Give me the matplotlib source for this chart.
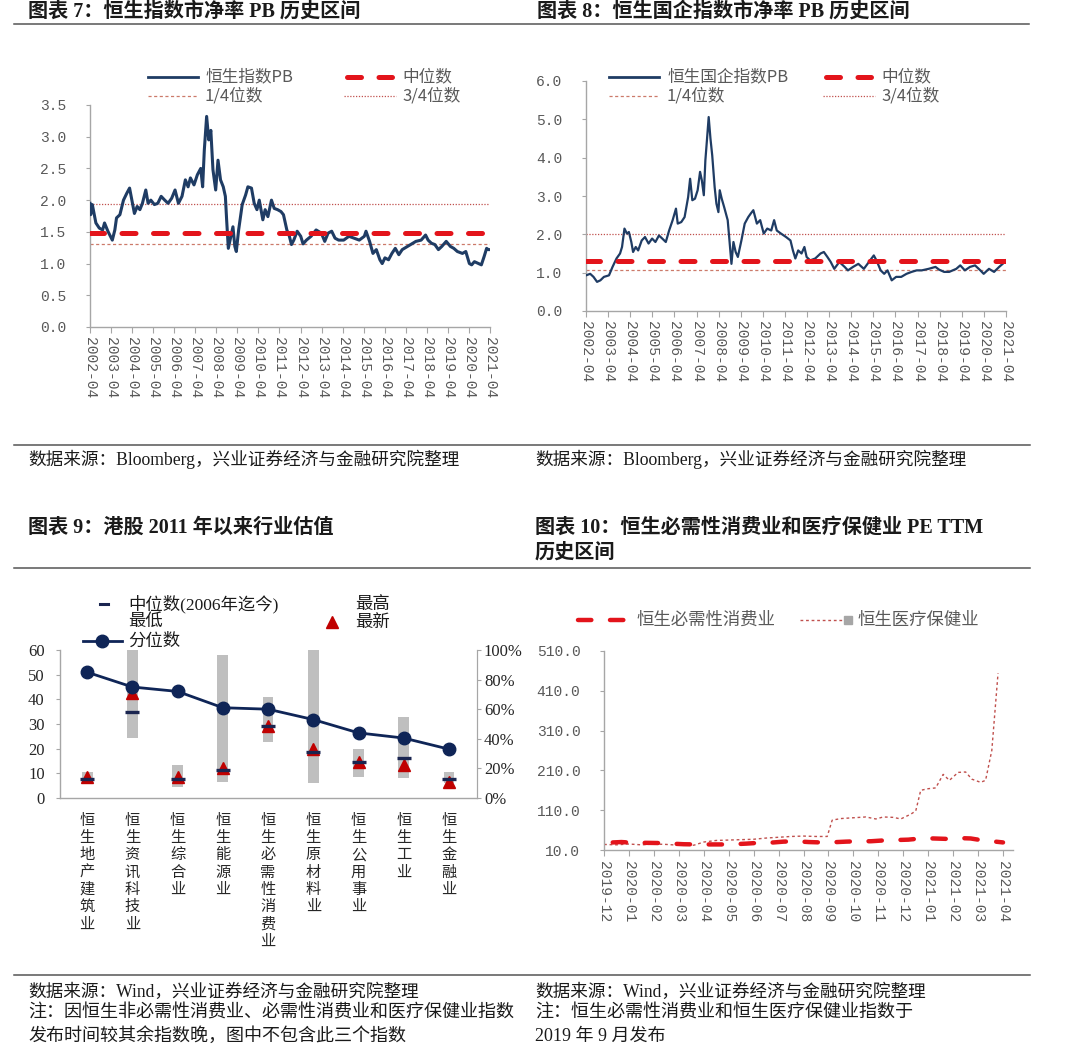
import numpy as np
import matplotlib
matplotlib.use('Agg')
import matplotlib.pyplot as plt
from matplotlib.lines import Line2D

plt.rcParams['font.family'] = ['Noto Sans CJK SC', 'DejaVu Sans']
plt.rcParams['axes.unicode_minus'] = False

# ---------------- data ----------------
year_labels = ['%d-04' % y for y in range(2002, 2022)]

# Hang Seng Index PB (decimal year, value)
hsi_pb = [(2002.25, 1.95), (2002.28, 1.77), (2002.36, 1.93), (2002.53, 1.64), (2002.69, 1.56),
          (2002.85, 1.53), (2002.94, 1.64), (2003.10, 1.51), (2003.31, 1.37), (2003.43, 1.53),
          (2003.51, 1.72), (2003.67, 1.77), (2003.84, 2.00), (2004.00, 2.11), (2004.13, 2.19),
          (2004.24, 2.00), (2004.36, 1.79), (2004.49, 1.90), (2004.62, 1.85), (2004.74, 1.95),
          (2004.90, 2.16), (2005.01, 1.95), (2005.14, 2.00), (2005.31, 1.93), (2005.47, 1.95),
          (2005.63, 2.06), (2005.80, 2.00), (2005.96, 1.95), (2006.13, 2.03), (2006.29, 2.16),
          (2006.45, 1.95), (2006.62, 2.06), (2006.78, 2.32), (2006.91, 2.21), (2007.02, 2.35),
          (2007.19, 2.24), (2007.35, 2.40), (2007.51, 2.50), (2007.60, 2.21), (2007.68, 2.79),
          (2007.79, 3.32), (2007.89, 2.95), (2007.99, 3.10), (2008.09, 2.48), (2008.22, 2.16),
          (2008.33, 2.63), (2008.45, 2.32), (2008.58, 2.21), (2008.68, 2.06), (2008.74, 1.69),
          (2008.82, 1.24), (2008.94, 1.43), (2009.04, 1.58), (2009.13, 1.27), (2009.20, 1.19),
          (2009.31, 1.53), (2009.48, 1.93), (2009.64, 2.08), (2009.75, 2.21), (2009.92, 2.19),
          (2010.05, 1.95), (2010.18, 1.85), (2010.29, 2.00), (2010.46, 1.69), (2010.57, 1.85),
          (2010.70, 1.74), (2010.87, 2.00), (2011.00, 1.87), (2011.16, 1.85), (2011.32, 1.82),
          (2011.44, 1.77), (2011.60, 1.53), (2011.72, 1.43), (2011.82, 1.30), (2011.93, 1.37),
          (2012.09, 1.51), (2012.26, 1.43), (2012.37, 1.31), (2012.53, 1.37), (2012.75, 1.43),
          (2012.99, 1.53), (2013.24, 1.48), (2013.40, 1.35), (2013.56, 1.48), (2013.73, 1.51),
          (2013.89, 1.40), (2014.06, 1.37), (2014.30, 1.37), (2014.55, 1.43), (2014.79, 1.40),
          (2015.04, 1.37), (2015.28, 1.43), (2015.36, 1.51), (2015.53, 1.35), (2015.69, 1.16),
          (2015.85, 1.22), (2016.02, 1.06), (2016.13, 1.00), (2016.26, 1.09), (2016.43, 1.06),
          (2016.59, 1.16), (2016.75, 1.24), (2016.92, 1.14), (2017.08, 1.22), (2017.33, 1.27),
          (2017.57, 1.32), (2017.73, 1.35), (2017.98, 1.37), (2018.19, 1.45), (2018.31, 1.37),
          (2018.47, 1.32), (2018.63, 1.30), (2018.80, 1.22), (2018.96, 1.27), (2019.17, 1.35),
          (2019.37, 1.27), (2019.53, 1.24), (2019.70, 1.19), (2019.94, 1.16), (2020.10, 1.19),
          (2020.27, 1.00), (2020.38, 0.98), (2020.51, 1.03), (2020.71, 1.00), (2020.84, 0.98),
          (2020.97, 1.11), (2021.09, 1.24), (2021.17, 1.22), (2021.25, 1.22)]
hsi_median, hsi_q1, hsi_q3 = 1.48, 1.31, 1.94

# Hang Seng China Enterprises Index PB
hscei_pb = [(2002.25, 0.93), (2002.44, 0.97), (2002.59, 0.89), (2002.75, 0.76), (2002.90, 0.80),
            (2003.06, 0.89), (2003.29, 0.93), (2003.45, 1.15), (2003.63, 1.37), (2003.79, 1.50),
            (2003.88, 1.67), (2003.99, 2.15), (2004.10, 2.02), (2004.19, 2.06), (2004.30, 1.80),
            (2004.38, 1.54), (2004.50, 1.67), (2004.61, 1.58), (2004.77, 1.84), (2004.92, 1.93),
            (2005.08, 1.76), (2005.24, 1.89), (2005.39, 1.80), (2005.55, 1.97), (2005.70, 1.89),
            (2005.86, 1.80), (2006.01, 2.10), (2006.17, 2.37), (2006.32, 2.67), (2006.40, 2.28),
            (2006.56, 2.32), (2006.71, 2.45), (2006.87, 2.97), (2006.96, 3.45), (2007.06, 2.89),
            (2007.18, 2.93), (2007.30, 3.15), (2007.41, 3.63), (2007.49, 3.41), (2007.58, 3.02),
            (2007.65, 3.93), (2007.72, 4.45), (2007.80, 5.06), (2007.88, 4.50), (2007.96, 4.06),
            (2008.07, 3.23), (2008.15, 2.80), (2008.24, 2.58), (2008.30, 3.15), (2008.39, 2.93),
            (2008.50, 2.71), (2008.66, 2.37), (2008.74, 1.84), (2008.83, 1.23), (2008.92, 1.80),
            (2009.02, 1.54), (2009.12, 1.41), (2009.28, 1.84), (2009.43, 2.28), (2009.59, 2.45),
            (2009.70, 2.54), (2009.82, 2.63), (2009.98, 2.28), (2010.13, 2.37), (2010.29, 2.02),
            (2010.45, 2.15), (2010.63, 2.10), (2010.76, 2.37), (2010.88, 2.10), (2011.07, 2.02),
            (2011.30, 1.93), (2011.50, 1.84), (2011.61, 1.58), (2011.72, 1.37), (2011.85, 1.58),
            (2012.00, 1.50), (2012.13, 1.67), (2012.23, 1.41), (2012.39, 1.32), (2012.62, 1.37),
            (2012.86, 1.50), (2013.01, 1.54), (2013.17, 1.41), (2013.32, 1.28), (2013.48, 1.10),
            (2013.71, 1.28), (2013.95, 1.15), (2014.10, 1.06), (2014.33, 1.15), (2014.57, 1.23),
            (2014.82, 1.10), (2015.05, 1.28), (2015.27, 1.45), (2015.39, 1.32), (2015.58, 1.06),
            (2015.74, 0.97), (2015.89, 1.06), (2016.08, 0.80), (2016.28, 0.89), (2016.51, 0.89),
            (2016.75, 0.97), (2016.98, 1.02), (2017.21, 1.06), (2017.44, 1.06), (2017.75, 1.10),
            (2018.06, 1.15), (2018.22, 1.08), (2018.45, 1.02), (2018.68, 1.02), (2019.00, 1.10),
            (2019.18, 1.19), (2019.39, 1.06), (2019.62, 1.15), (2019.85, 1.19), (2020.09, 1.06),
            (2020.24, 0.97), (2020.48, 1.10), (2020.71, 1.02), (2020.94, 1.15), (2021.10, 1.23),
            (2021.25, 1.32)]
hscei_median, hscei_q1, hscei_q3 = 1.31, 1.06, 2.00

# sector valuation since 2011
sectors = ['恒生地产建筑业', '恒生资讯科技业', '恒生综合业', '恒生能源业', '恒生必需性消费业',
           '恒生原材料业', '恒生公用事业', '恒生工业', '恒生金融业']
pe_low = [6.0, 24.3, 4.5, 6.5, 22.7, 6.0, 8.6, 8.0, 6.0]
pe_high = [10.5, 60.0, 13.2, 58.0, 41.0, 60.0, 20.0, 32.8, 10.5]
pe_median = [7.7, 34.9, 7.9, 11.4, 29.0, 18.7, 14.6, 16.2, 7.7]
pe_latest = [8.5, 42.6, 8.5, 12.0, 29.3, 20.0, 14.4, 13.2, 6.5]
pe_pct = [0.85, 0.75, 0.72, 0.61, 0.60, 0.53, 0.44, 0.405, 0.33]

# PE TTM, months since 2019-12
month_labels = ['2019-12', '2020-01', '2020-02', '2020-03', '2020-04', '2020-05', '2020-06',
                '2020-07', '2020-08', '2020-09', '2020-10', '2020-11', '2020-12', '2021-01',
                '2021-02', '2021-03', '2021-04']
staples_pe = [(0.35, 29), (0.7, 30), (1.2, 28), (1.7, 28), (2.2, 27.5), (2.7, 26), (3.2, 24.5),
              (3.7, 24), (4.2, 24), (4.7, 24), (5.2, 24.5), (5.7, 26), (6.2, 28), (6.7, 28.5),
              (7.2, 31), (7.7, 32), (8.2, 30), (8.7, 29), (9.2, 29.5), (9.7, 31), (10.2, 32),
              (10.7, 32), (11.2, 34), (11.7, 35), (12.2, 36), (12.7, 39), (13.2, 39), (13.7, 38),
              (14.2, 40), (14.7, 39), (15.2, 34), (15.7, 31), (16.0, 29)]
health_pe = [(0.0, 24), (0.5, 23), (1.0, 25), (1.5, 23), (2.0, 25), (2.5, 24), (3.0, 22),
             (3.6, 22), (4.0, 30), (4.5, 34), (5.0, 35), (5.5, 36), (6.0, 37), (6.5, 40),
             (7.0, 42), (7.5, 44), (8.0, 45), (8.5, 44), (8.95, 44), (9.15, 85), (9.5, 89),
             (10.0, 91), (10.5, 93), (10.9, 88), (11.2, 93), (11.6, 92), (11.9, 88), (12.3, 100),
             (12.5, 108), (12.7, 160), (13.0, 164), (13.3, 166), (13.6, 200), (13.85, 185),
             (14.2, 205), (14.5, 206), (14.75, 188), (15.1, 180), (15.3, 185), (15.55, 260),
             (15.8, 454)]

# ---------------- style ----------------
W, H = 1080, 1059
NAVY = '#1f3c64'
NAVY2 = '#0f2557'
RED = '#e3141b'
QRED = '#c0504d'
AXC = '#a6a6a6'
TXT = '#595959'
MONO = ['Liberation Mono', 'DejaVu Sans Mono']
SERIF_CJK = ['Liberation Serif', 'Noto Sans CJK SC']

fig = plt.figure(figsize=(W / 100, H / 100), dpi=100)


def rect(x0, y0, x1, y1):
    return [x0 / W, 1 - y1 / H, (x1 - x0) / W, (y1 - y0) / H]


def ftext(x, y, s, size, color='#1a1a1a', weight='normal', family=None):
    kw = {'family': family} if family else {}
    fig.text(x / W, 1 - y / H, s, fontsize=size, color=color, weight=weight,
             ha='left', va='center', **kw)


def fline(x0, x1, y, **kw):
    fig.add_artist(Line2D([x0 / W, x1 / W], [1 - y / H, 1 - y / H],
                          transform=fig.transFigure, **kw))


def fmark(x, y, **kw):
    fig.add_artist(Line2D([x / W], [1 - y / H], transform=fig.transFigure, ls='none', **kw))


def base_axes(ax):
    for s in ['top', 'right']:
        ax.spines[s].set_visible(False)
    for s in ['left', 'bottom']:
        ax.spines[s].set_color(AXC)
        ax.spines[s].set_linewidth(1.0)
    ax.tick_params(axis='both', colors=AXC, direction='out')
    ax.set_facecolor('none')


MED_DASH = dict(color=RED, lw=3.6, dashes=(2.8, 3.5), dash_capstyle='round')


def pb_panel(box, series, med, q1, q3, ymax, ystep, lw):
    ax = fig.add_axes(rect(*box))
    base_axes(ax)
    t, v = zip(*series)
    ax.plot(t, v, color=NAVY, lw=lw, zorder=3, solid_joinstyle='round')
    ax.axhline(q3, color=QRED, lw=0.9, dashes=(1, 1.3), zorder=2)
    ax.axhline(q1, color='#cc7a6a', lw=0.9, dashes=(2.5, 2.0), zorder=2)
    ax.axhline(med, zorder=4, **MED_DASH)
    ax.set_xlim(2002.25, 2021.25)
    ax.set_ylim(0, ymax)
    ticks = [2002.25 + i for i in range(len(year_labels))]
    ax.set_xticks(ticks, labels=year_labels, rotation=-90, fontsize=10.5, color=TXT,
                  family=MONO, va='top', ha='center')
    yt = np.arange(0, ymax + 1e-9, ystep)
    ax.set_yticks(yt, labels=['%.1f' % y for y in yt], fontsize=10.5, color=TXT, family=MONO)
    ax.tick_params(axis='x', length=4, pad=3)
    ax.tick_params(axis='y', length=3, pad=14)
    return ax


# ---------------- top row ----------------
ftext(28, 12, '图表 7：恒生指数市净率 PB 历史区间', 14.5, weight='bold', family=SERIF_CJK)
ftext(537, 12, '图表 8：恒生国企指数市净率 PB 历史区间', 14.5, weight='bold', family=SERIF_CJK)
fline(14, 1029, 24, color='#555555', lw=1.1)

pb_panel((90, 105, 490, 327), hsi_pb, hsi_median, hsi_q1, hsi_q3, 3.5, 0.5, 2.2)
pb_panel((586, 81, 1006, 311), hscei_pb, hscei_median, hscei_q1, hscei_q3, 6.0, 1.0, 1.6)

for (xa, xb, xt), (lab1, lab2, lab3, lab4) in [((148, 344, 205), ('恒生指数PB', '中位数', '1/4位数', '3/4位数')),
                                              ((609, 823, 667), ('恒生国企指数PB', '中位数', '1/4位数', '3/4位数'))]:
    fline(xa, xa + 50, 77, color=NAVY, lw=2.0)
    ftext(xt, 77, lab1, 12, color=TXT)
    fline(xb + 3, xb + 48, 77, **MED_DASH)
    ftext(xb + 58, 77, lab2, 12, color=TXT)
    fline(xa, xa + 50, 96, color='#cc7a6a', lw=0.9, dashes=(2.5, 2.0))
    ftext(xt, 96, lab3, 12, color=TXT)
    fline(xb, xb + 52, 96, color=QRED, lw=0.9, dashes=(1, 1.3))
    ftext(xb + 58, 96, lab4, 12, color=TXT)

fline(14, 1030, 445, color='#555555', lw=1.1)
ftext(28, 459, '数据来源：Bloomberg，兴业证券经济与金融研究院整理', 12.7, family=SERIF_CJK)
ftext(535, 459, '数据来源：Bloomberg，兴业证券经济与金融研究院整理', 12.7, family=SERIF_CJK)

# ---------------- bottom row ----------------
ftext(28, 528, '图表 9：港股 2011 年以来行业估值', 14.5, weight='bold', family=SERIF_CJK)
ftext(535, 528, '图表 10：恒生必需性消费业和医疗保健业 PE TTM', 14.5, weight='bold', family=SERIF_CJK)
ftext(535, 553, '历史区间', 14.5, weight='bold', family=SERIF_CJK)
fline(14, 1030, 568, color='#555555', lw=1.1)

# sector valuation panel
ax3 = fig.add_axes(rect(60, 650, 477, 798))
base_axes(ax3)
ax3.spines['right'].set_visible(True)
ax3.spines['right'].set_color(AXC)
x = np.arange(len(sectors))
ax3.bar(x, np.array(pe_high) - np.array(pe_low), bottom=pe_low, width=0.24,
        color='#bfbfbf', zorder=1)
ax3.plot(x, pe_latest, ls='none', marker='^', ms=8, color='#c00000', zorder=3)
ax3.plot(x, pe_median, ls='none', marker='_', ms=10, mew=2.4, color='#1a2550', zorder=4)
ax3.set_xlim(-0.6, 8.62)
ax3.set_ylim(0, 60)
ax3.set_yticks(range(0, 61, 10), labels=[str(v) for v in range(0, 61, 10)],
               fontsize=12, color='#262626', family=SERIF_CJK)
ax3.set_xticks(x, labels=['\n'.join(s) for s in sectors], fontsize=11, color='#1a1a1a',
               linespacing=1.02, va='top')
ax3.tick_params(axis='x', length=0, pad=10)
ax3.tick_params(axis='y', length=3, pad=8)

ax3b = ax3.twinx()
for s in ['top', 'left', 'bottom']:
    ax3b.spines[s].set_visible(False)
ax3b.spines['right'].set_color(AXC)
ax3b.plot(x, pe_pct, color=NAVY2, lw=2.0, marker='o', ms=9, zorder=5)
ax3b.set_ylim(0, 1)
pt = np.arange(0, 1.01, 0.2)
ax3b.set_yticks(pt, labels=['%d%%' % round(p * 100) for p in pt], fontsize=12,
                color='#262626', family=SERIF_CJK)
ax3b.tick_params(axis='y', colors=AXC, length=3, pad=2)
for lbl in ax3b.get_yticklabels():
    lbl.set_color('#262626')
for lbl in ax3.get_yticklabels() + ax3.get_xticklabels():
    lbl.set_color('#262626')

fline(100, 108, 604, color='#1a2550', lw=2.2)
ftext(128, 604, '中位数(2006年迄今)', 12.5, family=SERIF_CJK)
ftext(355, 604, '最高', 12.5)
ftext(128, 621, '最低', 12.5)
fmark(332, 622, marker='^', ms=8, color='#c00000')
ftext(355, 622, '最新', 12.5)
fline(83, 122, 641, color=NAVY2, lw=2.0)
fmark(102, 641, marker='o', ms=9, color=NAVY2)
ftext(128, 641, '分位数', 12.5)

# PE TTM panel
ax4 = fig.add_axes(rect(604, 651, 1013, 850))
base_axes(ax4)
ht, hv = zip(*health_pe)
st, sv = zip(*staples_pe)
ax4.plot(ht, hv, color=QRED, lw=1.0, dashes=(2, 2), zorder=2)
ax4.plot(st, sv, color=RED, lw=3.2, dashes=(3.0, 4.2), dash_capstyle='round', zorder=3)
ax4.set_xlim(0, 16.4)
ax4.set_ylim(10, 510)
ax4.set_xticks(range(len(month_labels)), labels=month_labels, rotation=-90, fontsize=10.5,
               color=TXT, family=MONO, va='top', ha='center')
yt = np.arange(10, 511, 100)
ax4.set_yticks(yt, labels=['%.1f' % v for v in yt], fontsize=10.5, color=TXT, family=MONO)
ax4.tick_params(axis='x', length=4, pad=4)
ax4.tick_params(axis='y', length=3, pad=14)
for lbl in ax4.get_yticklabels() + ax4.get_xticklabels():
    lbl.set_color(TXT)

fline(578, 625, 620, color=RED, lw=3.2, dashes=(3.0, 4.2), dash_capstyle='round')
ftext(636, 620, '恒生必需性消费业', 12.5, color=TXT)
fline(800, 842, 620, color=QRED, lw=1.0, dashes=(2, 2))
fmark(848, 620, marker='s', ms=6, color='#a6a6a6')
ftext(857, 620, '恒生医疗保健业', 12.5, color=TXT)

# footer
fline(14, 1030, 975, color='#555555', lw=1.1)
ftext(28, 992, '数据来源：Wind，兴业证券经济与金融研究院整理', 12.7, family=SERIF_CJK)
ftext(28, 1013, '注：因恒生非必需性消费业、必需性消费业和医疗保健业指数', 13, family=SERIF_CJK)
ftext(28, 1036, '发布时间较其余指数晚，图中不包含此三个指数', 13, family=SERIF_CJK)
ftext(535, 992, '数据来源：Wind，兴业证券经济与金融研究院整理', 12.7, family=SERIF_CJK)
ftext(535, 1013, '注：恒生必需性消费业和恒生医疗保健业指数于', 13, family=SERIF_CJK)
ftext(535, 1036, '2019 年 9 月发布', 13, family=SERIF_CJK)

fig.savefig('out.png', dpi=100)
